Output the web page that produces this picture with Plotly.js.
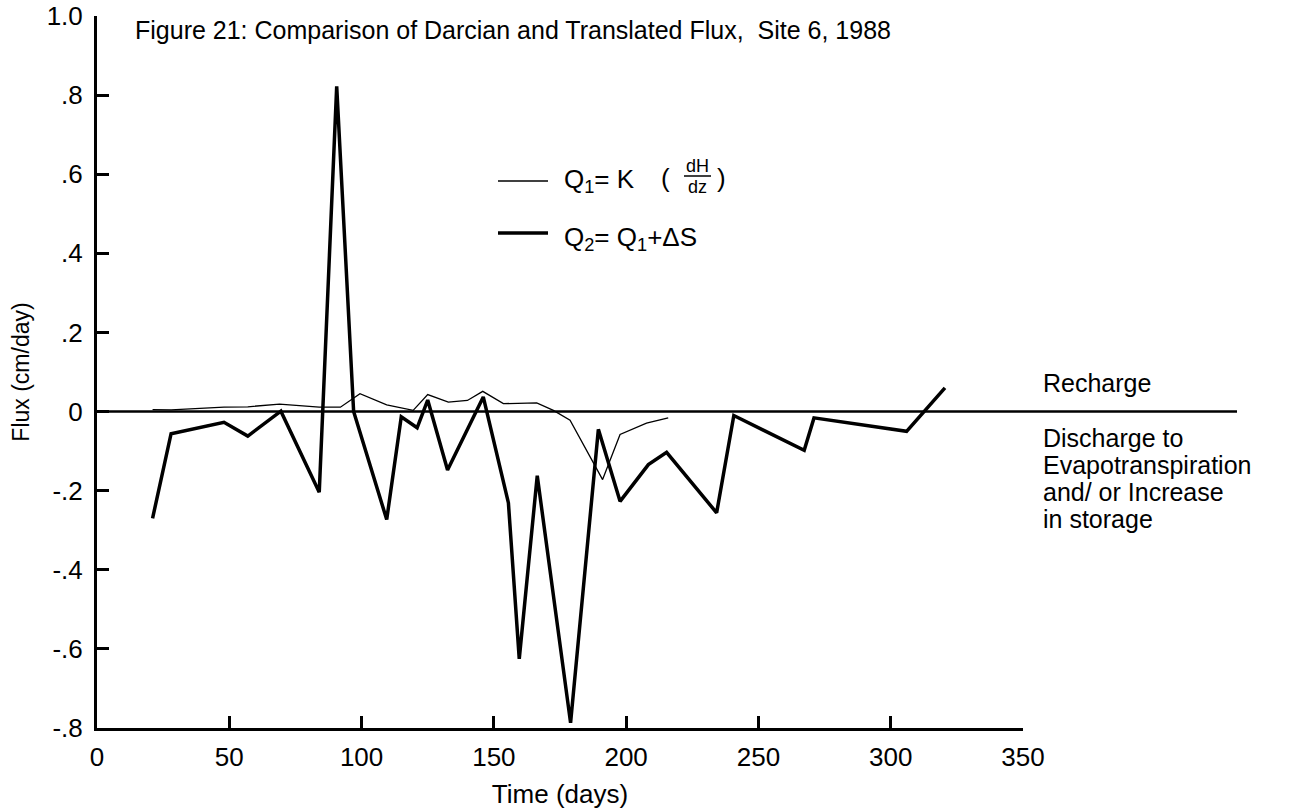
<!DOCTYPE html>
<html>
<head>
<meta charset="utf-8">
<script src="https://cdn.plot.ly/plotly-3.0.1.min.js"></script>
<style>
  html, body { margin: 0; padding: 0; background: #ffffff; }
  #chart { width: 1290px; height: 811px; }
</style>
</head>
<body>
<div id="chart"></div>
<script>
// ---- Data ----
const daysQ1 = [21, 28, 48, 57, 69, 84, 92, 99.4, 109.5, 119.5, 125, 132.8, 140, 145.8, 153.6, 166.2, 172.5, 178.8, 191.1, 197.7, 207.7, 215.9];
const fluxQ1 = [0.005, 0.004, 0.011, 0.012, 0.019, 0.011, 0.011, 0.045, 0.017, 0.003, 0.043, 0.024, 0.028, 0.051, 0.020, 0.022, 0.003, -0.022, -0.172, -0.058, -0.029, -0.016];

const daysQ2 = [21, 28, 48, 57, 69.5, 84, 90.6, 97, 109.5, 115, 121, 125, 132.5, 146, 155.5, 159.6, 166.4, 179, 189.5, 197.7, 208.4, 215.3, 234.2, 240.7, 267.3, 271, 306, 320.5];
const fluxQ2 = [-0.27, -0.056, -0.027, -0.062, 0.001, -0.204, 0.822, 0.0, -0.273, -0.013, -0.041, 0.029, -0.148, 0.037, -0.231, -0.625, -0.162, -0.787, -0.045, -0.227, -0.134, -0.103, -0.256, -0.01, -0.098, -0.016, -0.05, 0.06];

const xTickVals = [0, 50, 100, 150, 200, 250, 300, 350];
const xTickText = ['0', '50', '100', '150', '200', '250', '300', '350'];
const yTickVals = [-0.8, -0.6, -0.4, -0.2, 0, 0.2, 0.4, 0.6, 0.8, 1.0];
const yTickText = ['-.8', '-.6', '-.4', '-.2', '0', '.2', '.4', '.6', '.8', '1.0'];

const titleText = 'Figure 21: Comparison of Darcian and Translated Flux,  Site 6, 1988';
const xTitle = 'Time (days)';
const yTitle = 'Flux (cm/day)';
const q1Label = 'Q<sub>1</sub>= K';
const q2Label = 'Q<sub>2</sub>= Q<sub>1</sub>+ΔS';
const rechargeLabel = 'Recharge';
const dischargeLines = ['Discharge to', 'Evapotranspiration', 'and/ or Increase', 'in storage'];

// ---- Layout helpers (pixel -> paper) ----
const W = 1290, H = 811;
const L = 97, R = 1023, T = 16, B = 728;
const px = x => (x - L) / (R - L);
const py = y => (B - y) / (B - T);

const FONT = 'Liberation Sans, Arial, Helvetica, sans-serif';

const traces = [
  {
    x: daysQ1, y: fluxQ1, type: 'scatter', mode: 'lines', name: 'Q1',
    line: { color: '#000000', width: 1.3 }, hoverinfo: 'x+y'
  },
  {
    x: daysQ2, y: fluxQ2, type: 'scatter', mode: 'lines', name: 'Q2',
    line: { color: '#000000', width: 3.5 }, hoverinfo: 'x+y'
  }
];

const ann = [];
function addText(text, x, y, size, xanchor) {
  ann.push({
    text: text, xref: 'paper', yref: 'paper', x: px(x), y: py(y),
    xanchor: xanchor || 'left', yanchor: 'middle', showarrow: false,
    font: { family: FONT, size: size, color: '#000000' }
  });
}
// legend
addText(q1Label, 562, 180, 26);
addText('(', 665, 178, 26, 'center');
addText('dH', 697, 166, 18, 'center');
addText('dz', 697, 187, 18, 'center');
addText(')', 721, 178, 26, 'center');
addText(q2Label, 562, 238, 26);
// side labels
addText(rechargeLabel, 1041, 383, 25);
dischargeLines.forEach((t, i) => addText(t, 1041, 438 + i * 27, 25));

const shapes = [
  // zero line extending past the axis
  { type: 'line', xref: 'paper', yref: 'y', x0: 0, x1: px(1237), y0: 0, y1: 0,
    line: { color: '#000000', width: 2.6 } },
  // legend samples
  { type: 'line', xref: 'paper', yref: 'paper', x0: px(498), x1: px(548), y0: py(181), y1: py(181),
    line: { color: '#000000', width: 1.3 } },
  { type: 'line', xref: 'paper', yref: 'paper', x0: px(498), x1: px(548), y0: py(233), y1: py(233),
    line: { color: '#000000', width: 3.5 } },
  // fraction bar
  { type: 'line', xref: 'paper', yref: 'paper', x0: px(684), x1: px(711), y0: py(176), y1: py(176),
    line: { color: '#000000', width: 1.5 } }
];

const axisCommon = {
  showline: true, linecolor: '#000000', linewidth: 3,
  ticks: 'inside', ticklen: 12, tickwidth: 2.5, tickcolor: '#000000',
  showgrid: false, zeroline: false, fixedrange: true,
  tickfont: { family: FONT, size: 26, color: '#000000' }
};

const layout = {
  width: W, height: H,
  margin: { l: L, r: W - R, t: T, b: H - B, pad: 0 },
  paper_bgcolor: '#ffffff', plot_bgcolor: '#ffffff',
  showlegend: false,
  font: { family: FONT, color: '#000000' },
  title: {
    text: titleText, xref: 'container', yref: 'container',
    x: 135 / W, xanchor: 'left', y: 1 - 30 / H, yanchor: 'middle',
    font: { family: FONT, size: 25, color: '#000000' }
  },
  xaxis: Object.assign({}, axisCommon, {
    range: [0, 350], tickmode: 'array', tickvals: xTickVals, ticktext: xTickText,
    ticklabelstandoff: 4,
    title: { text: xTitle, standoff: 14, font: { family: FONT, size: 26, color: '#000000' } }
  }),
  yaxis: Object.assign({}, axisCommon, {
    range: [-0.8, 1.0], tickmode: 'array', tickvals: yTickVals, ticktext: yTickText,
    ticklabelstandoff: 6,
    title: { text: yTitle, standoff: 11, font: { family: FONT, size: 23, color: '#000000' } }
  }),
  annotations: ann,
  shapes: shapes
};

Plotly.newPlot('chart', traces, layout, { displayModeBar: false, responsive: false });
</script>
</body>
</html>
